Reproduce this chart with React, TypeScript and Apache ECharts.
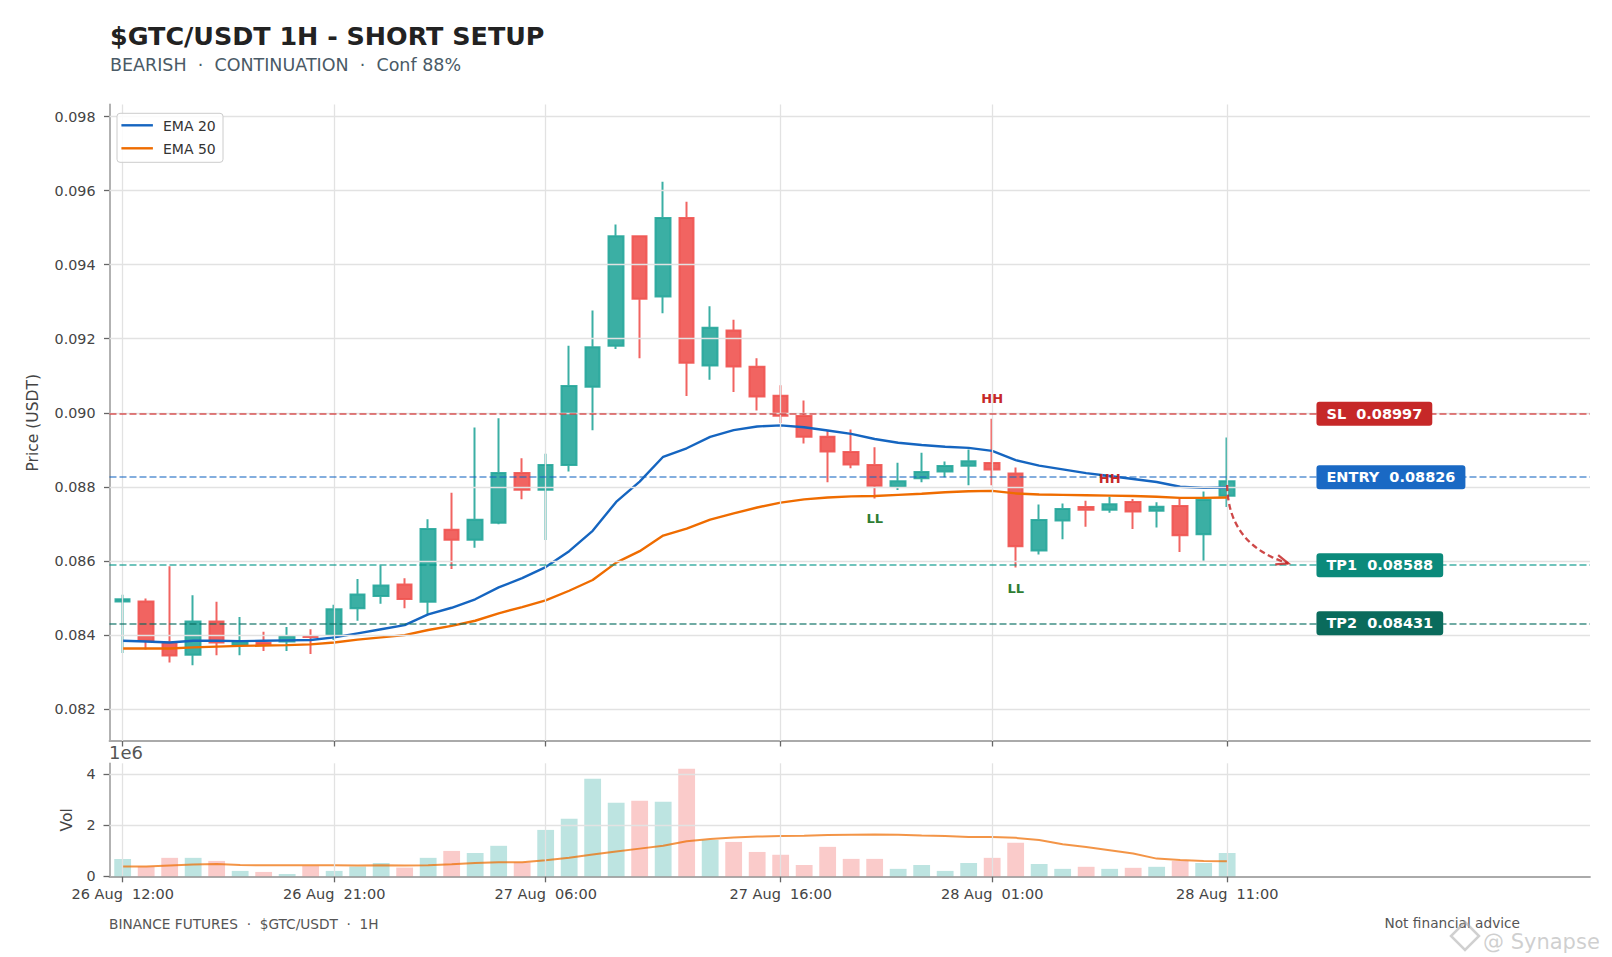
import React, { useEffect, useRef } from "react";
import * as echarts from "echarts";

// ---------- data ----------
const TIME_TICKS = [0, 9, 18, 28, 37, 47];
const TIME_TICK_LABELS = [
  "26 Aug  12:00",
  "26 Aug  21:00",
  "27 Aug  06:00",
  "27 Aug  16:00",
  "28 Aug  01:00",
  "28 Aug  11:00",
];
const PRICE_TICKS = [0.082, 0.084, 0.086, 0.088, 0.09, 0.092, 0.094, 0.096, 0.098];
const VOL_TICKS = [0, 2, 4];

const OPEN = [
  0.0849, 0.0849, 0.08379, 0.08346, 0.08436, 0.08373, 0.08378, 0.08382, 0.08397, 0.084,
  0.08472, 0.08505, 0.08536, 0.08489, 0.08684, 0.08657, 0.08703, 0.08837, 0.08792, 0.08859,
  0.0907, 0.09181, 0.09477, 0.09314, 0.09526, 0.09128, 0.09222, 0.09124, 0.09046, 0.08991,
  0.08935, 0.08894, 0.08859, 0.088, 0.08823, 0.08841, 0.08857, 0.08864, 0.08836, 0.08628,
  0.08709, 0.08745, 0.08738, 0.08759, 0.08735, 0.08748, 0.08672, 0.08776,
];
const CLOSE = [
  0.08496, 0.08384, 0.08344, 0.08436, 0.08379, 0.08382, 0.08375, 0.08396, 0.08394, 0.08469,
  0.08509, 0.08533, 0.08497, 0.08686, 0.08657, 0.08711, 0.08837, 0.08792, 0.08859, 0.09072,
  0.09177, 0.09477, 0.09308, 0.09526, 0.09135, 0.0923, 0.09125, 0.09044, 0.08992, 0.08935,
  0.08895, 0.0886, 0.08803, 0.08815, 0.0884, 0.08856, 0.08869, 0.08847, 0.08639, 0.0871,
  0.0874, 0.08738, 0.08753, 0.08733, 0.08746, 0.08669, 0.08764, 0.08815,
];
const LOW = [
  0.08351, 0.0836, 0.08325, 0.08318, 0.08345, 0.08345, 0.08356, 0.08356, 0.08348, 0.08386,
  0.08438, 0.08484, 0.08472, 0.08453, 0.08578, 0.08635, 0.08699, 0.08766, 0.08656, 0.08841,
  0.08953, 0.09172, 0.09147, 0.09269, 0.09045, 0.09089, 0.09056, 0.09006, 0.08972, 0.08917,
  0.08812, 0.0885, 0.08768, 0.08791, 0.08812, 0.08826, 0.08804, 0.08804, 0.08582, 0.08617,
  0.08658, 0.08692, 0.0873, 0.08686, 0.0869, 0.08624, 0.086, 0.08745,
];
const HIGH = [
  0.08508, 0.08498, 0.08585, 0.08507, 0.08489, 0.08448, 0.08408, 0.08421, 0.08415, 0.08481,
  0.08551, 0.08587, 0.08553, 0.08712, 0.08784, 0.0896, 0.08985, 0.08877, 0.08889, 0.09181,
  0.09276, 0.09509, 0.09479, 0.09624, 0.0957, 0.09288, 0.09251, 0.09147, 0.09074, 0.09033,
  0.08953, 0.08955, 0.08907, 0.08865, 0.08892, 0.08868, 0.08901, 0.08984, 0.08852, 0.08752,
  0.08755, 0.08762, 0.08773, 0.08767, 0.08758, 0.08769, 0.08787, 0.08933,
];
const EMA20 = [
  0.08384, 0.08382, 0.08379, 0.08384, 0.08384, 0.08383, 0.08384, 0.08385, 0.08386, 0.08393,
  0.08404, 0.08415, 0.08426, 0.08455, 0.08473, 0.08496, 0.08528, 0.08553, 0.08583, 0.08626,
  0.08681, 0.08759, 0.08814, 0.08881, 0.08904, 0.08935, 0.08953, 0.08963, 0.08966, 0.08961,
  0.08952, 0.08943, 0.08929, 0.08919, 0.08913, 0.08908, 0.08905, 0.08897, 0.08872, 0.08857,
  0.08847, 0.08837, 0.08829, 0.08821, 0.08813, 0.088, 0.08797, 0.08798,
];
const EMA50 = [
  0.08363, 0.08363, 0.08363, 0.08366, 0.08368, 0.0837, 0.08371, 0.08372, 0.08374, 0.08379,
  0.08387, 0.08393, 0.08399, 0.08413, 0.08424, 0.08438, 0.08458, 0.08475, 0.08493, 0.08519,
  0.08548, 0.08595, 0.08626, 0.08668, 0.08687, 0.08711, 0.08728, 0.08744, 0.08757, 0.08766,
  0.08771, 0.08774, 0.08775, 0.08778, 0.08781, 0.08785, 0.08788, 0.08789, 0.08782, 0.08779,
  0.08778, 0.08777, 0.08776, 0.08775, 0.08773, 0.0877, 0.0877, 0.08771,
];
// volume in millions
const VOLUME_M = [
  0.68, 0.38, 0.72, 0.72, 0.6, 0.21, 0.17, 0.09, 0.4, 0.21,
  0.38, 0.52, 0.34, 0.72, 0.99, 0.91, 1.19, 0.54, 1.81, 2.25,
  3.81, 2.87, 2.95, 2.91, 4.2, 1.42, 1.34, 0.95, 0.84, 0.44,
  1.15, 0.68, 0.68, 0.29, 0.44, 0.21, 0.52, 0.72, 1.31, 0.48,
  0.29, 0.37, 0.29, 0.33, 0.37, 0.6, 0.52, 0.91,
];
const VOL_MA_M = [
  0.38, 0.38, 0.42, 0.46, 0.48, 0.44, 0.43, 0.43, 0.43, 0.43,
  0.42, 0.43, 0.42, 0.43, 0.47, 0.52, 0.55, 0.55, 0.63, 0.72,
  0.85, 0.97, 1.08, 1.19, 1.37, 1.46, 1.51, 1.55, 1.57, 1.58,
  1.61, 1.62, 1.63, 1.62, 1.59, 1.57, 1.53, 1.53, 1.5, 1.42,
  1.25, 1.14, 1.02, 0.89, 0.69, 0.64, 0.6, 0.59,
];

const LEVEL_NAMES = ["SL", "ENTRY", "TP1", "TP2"];
const LEVEL_VALUES = [0.08997, 0.08826, 0.08588, 0.08431];
const TAG_X = 50.8;

const SWING_TEXT = ["HH", "LL", "LL", "HH"];
const SWING_X = [37, 32, 38, 42];
const SWING_Y = [0.09038, 0.08715, 0.08526, 0.08823];

const ARROW_START = [47.0, 0.08805];
const ARROW_CTRL = [47.04, 0.08643];
const ARROW_END = [49.6, 0.08593];

// ---------- styles ----------
const FONT = '"DejaVu Sans", "Noto Sans", sans-serif';
const UP = "#26a69a";
const DOWN = "#ef5350";
const LEVEL_LINE_COLORS = ["#d32f2f", "#1565c0", "#009688", "#00695c"];
const LEVEL_LINE_OPACITY = [0.8, 0.7, 0.75, 0.75];
const LEVEL_TAG_COLORS = ["#c62828", "#1a69c4", "#0b8a7b", "#0a6b5c"];
const SWING_COLORS: Record<string, string> = { HH: "#c62828", LL: "#2e7d32" };
const GRID_COLOR = "#e2e2e2";
const SPINE_COLOR = "#aaaaaa";
const TICK_COLOR = "#666666";
const LABEL_COLOR = "#444444";

const X_MIN = -0.56;
const X_MAX = 62.44;
const P_MIN = 0.08113;
const P_MAX = 0.09833;
const V_MAX = 4.41;

function tickLabel(v: number) {
  const k = TIME_TICKS.indexOf(Math.round(v));
  return k >= 0 ? TIME_TICK_LABELS[k] : "";
}

function buildOption() {
  const candles = OPEN.map((o, i) => [i, o, CLOSE[i], LOW[i], HIGH[i]]);
  const ema20 = EMA20.map((v, i) => [i, v]);
  const ema50 = EMA50.map((v, i) => [i, v]);
  const vol = VOLUME_M.map((v, i) => ({
    value: [i, v],
    itemStyle: { color: CLOSE[i] >= OPEN[i] ? UP : DOWN, opacity: 0.3 },
  }));
  const volMa = VOL_MA_M.map((v, i) => [i, v]);

  const axisLine = { show: true, onZero: false, lineStyle: { color: SPINE_COLOR, width: 1.8 } };
  const axisTickStyle = { color: TICK_COLOR, width: 1.3 };

  const gridLineStyle = { color: GRID_COLOR, width: 1.3, type: "solid" as const, opacity: 1 };

  return {
    animation: false,
    backgroundColor: "#ffffff",
    textStyle: { fontFamily: FONT },
    grid: [
      { left: 109.5, right: 22, top: 104.5, height: 636.5 },
      { left: 109.5, right: 22, top: 763.3, height: 113 },
    ],
    xAxis: [
      {
        type: "value",
        gridIndex: 0,
        min: X_MIN,
        max: X_MAX,
        axisLine,
        axisTick: { show: true, customValues: TIME_TICKS, length: 5.5, lineStyle: axisTickStyle },
        axisLabel: { show: false },
        splitLine: { show: false },
      },
      {
        type: "value",
        gridIndex: 1,
        min: X_MIN,
        max: X_MAX,
        axisLine,
        axisTick: { show: true, customValues: TIME_TICKS, length: 6, lineStyle: axisTickStyle },
        axisLabel: {
          show: true,
          customValues: TIME_TICKS,
          formatter: (v: number) => tickLabel(v),
          fontFamily: FONT,
          fontSize: 14.5,
          color: LABEL_COLOR,
          margin: 10,
        },
        splitLine: { show: false },
      },
    ],
    yAxis: [
      {
        type: "value",
        gridIndex: 0,
        min: P_MIN,
        max: P_MAX,
        axisLine,
        axisTick: { show: true, customValues: PRICE_TICKS, length: 5.5, lineStyle: axisTickStyle },
        axisLabel: {
          show: true,
          customValues: PRICE_TICKS,
          formatter: (v: number) => v.toFixed(3),
          fontFamily: FONT,
          fontSize: 14.3,
          color: LABEL_COLOR,
          margin: 14,
        },
        splitLine: { show: false },
        name: "Price (USDT)",
        nameLocation: "middle",
        nameGap: 69,
        nameTextStyle: { fontFamily: FONT, fontSize: 15.5, color: LABEL_COLOR },
      },
      {
        type: "value",
        gridIndex: 1,
        min: 0,
        max: V_MAX,
        axisLine,
        axisTick: { show: true, customValues: VOL_TICKS, length: 6, lineStyle: axisTickStyle },
        axisLabel: {
          show: true,
          customValues: VOL_TICKS,
          formatter: (v: number) => String(Math.round(v)),
          fontFamily: FONT,
          fontSize: 14.3,
          color: LABEL_COLOR,
          margin: 14,
        },
        splitLine: { show: false },
        name: "Vol",
        nameLocation: "middle",
        nameGap: 35,
        nameTextStyle: { fontFamily: FONT, fontSize: 15.5, color: LABEL_COLOR },
      },
    ],
    series: [
      // price grid lines
      {
        type: "line",
        xAxisIndex: 0,
        yAxisIndex: 0,
        data: [],
        z: 0,
        silent: true,
        markLine: {
          silent: true,
          precision: 8,
          symbol: ["none", "none"],
          label: { show: false },
          lineStyle: gridLineStyle,
          emphasis: { disabled: true },
          data: [
            ...PRICE_TICKS.map((v) => ({ yAxis: v })),
            ...TIME_TICKS.map((v) => ({ xAxis: v })),
          ],
        },
      },
      // volume grid lines
      {
        type: "line",
        xAxisIndex: 1,
        yAxisIndex: 1,
        data: [],
        z: 0,
        silent: true,
        markLine: {
          silent: true,
          precision: 8,
          symbol: ["none", "none"],
          label: { show: false },
          lineStyle: gridLineStyle,
          emphasis: { disabled: true },
          data: [
            ...VOL_TICKS.filter((v) => v > 0).map((v) => ({ yAxis: v })),
            ...TIME_TICKS.map((v) => ({ xAxis: v })),
          ],
        },
      },
      {
        type: "candlestick",
        xAxisIndex: 0,
        yAxisIndex: 0,
        data: candles,
        encode: { x: 0, y: [1, 2, 3, 4] },
        barWidth: 15,
        z: 2,
        silent: true,
        itemStyle: {
          color: UP,
          color0: DOWN,
          borderColor: UP,
          borderColor0: DOWN,
          borderWidth: 2,
          opacity: 0.9,
        },
      },
      // level lines
      {
        type: "line",
        xAxisIndex: 0,
        yAxisIndex: 0,
        data: [],
        z: 3,
        silent: true,
        markLine: {
          silent: true,
          precision: 8,
          symbol: ["none", "none"],
          label: { show: false },
          emphasis: { disabled: true },
          data: LEVEL_VALUES.map((v, i) => ({
            yAxis: v,
            lineStyle: {
              color: LEVEL_LINE_COLORS[i],
              opacity: LEVEL_LINE_OPACITY[i],
              width: 1.6,
              type: [7, 3],
            },
          })),
        },
      },
      {
        name: "EMA 20",
        type: "line",
        xAxisIndex: 0,
        yAxisIndex: 0,
        data: ema20,
        showSymbol: false,
        symbol: "none",
        z: 4,
        silent: true,
        lineStyle: { color: "#1565c0", width: 2.4 },
      },
      {
        name: "EMA 50",
        type: "line",
        xAxisIndex: 0,
        yAxisIndex: 0,
        data: ema50,
        showSymbol: false,
        symbol: "none",
        z: 4,
        silent: true,
        lineStyle: { color: "#ef6c00", width: 2.4 },
      },
      // level tags
      {
        type: "scatter",
        xAxisIndex: 0,
        yAxisIndex: 0,
        symbolSize: 0,
        z: 6,
        silent: true,
        itemStyle: { opacity: 1 },
        data: LEVEL_VALUES.map((v, i) => ({
          value: [TAG_X, v],
          label: {
            show: true,
            position: "right",
            distance: 0,
            formatter: `${LEVEL_NAMES[i]}  ${v.toFixed(5)}`,
            backgroundColor: LEVEL_TAG_COLORS[i],
            color: "#ffffff",
            opacity: 1,
            fontFamily: FONT,
            fontWeight: "bold",
            fontSize: 14.5,
            lineHeight: 14,
            padding: [5, 10, 5, 10],
            borderRadius: 3,
          },
        })),
      },
      // swing labels
      {
        type: "scatter",
        xAxisIndex: 0,
        yAxisIndex: 0,
        symbolSize: 0,
        z: 6,
        silent: true,
        itemStyle: { opacity: 1 },
        data: SWING_TEXT.map((t, i) => ({
          value: [SWING_X[i], SWING_Y[i]],
          label: {
            show: true,
            position: "inside",
            formatter: t,
            color: SWING_COLORS[t],
            opacity: 1,
            fontFamily: FONT,
            fontWeight: "bold",
            fontSize: 13,
          },
        })),
      },
      // projection arrow
      {
        type: "custom",
        xAxisIndex: 0,
        yAxisIndex: 0,
        z: 5,
        silent: true,
        data: [[ARROW_START[0], ARROW_START[1]]],
        renderItem: (_params: any, api: any) => {
          const s = api.coord(ARROW_START);
          const c = api.coord(ARROW_CTRL);
          const e = api.coord(ARROW_END);
          const ang = Math.atan2(e[1] - c[1], e[0] - c[0]);
          const L = 13;
          const w = 0.38;
          const head = [
            [e[0] - L * Math.cos(ang - w), e[1] - L * Math.sin(ang - w)],
            [e[0], e[1]],
            [e[0] - L * Math.cos(ang + w), e[1] - L * Math.sin(ang + w)],
          ];
          return {
            type: "group",
            children: [
              {
                type: "bezierCurve",
                shape: { x1: s[0], y1: s[1], x2: e[0], y2: e[1], cpx1: c[0], cpy1: c[1] },
                style: { stroke: "#c62828", lineWidth: 2.3, lineDash: [6, 3.5], fill: null, opacity: 0.85 },
              },
              {
                type: "polyline",
                shape: { points: head },
                style: { stroke: "#c62828", lineWidth: 2.3, fill: null, opacity: 0.85 },
              },
            ],
          };
        },
      },
      // volume
      {
        type: "bar",
        xAxisIndex: 1,
        yAxisIndex: 1,
        data: vol,
        barWidth: 16.8,
        z: 2,
        silent: true,
      },
      {
        type: "line",
        xAxisIndex: 1,
        yAxisIndex: 1,
        data: volMa,
        showSymbol: false,
        symbol: "none",
        z: 3,
        silent: true,
        lineStyle: { color: "#ef6c00", width: 2, opacity: 0.72 },
      },
    ],
    graphic: [
      {
        type: "text",
        x: 110,
        y: 36,
        style: {
          text: "$GTC/USDT 1H - SHORT SETUP",
          font: `bold 25.4px ${FONT}`,
          fill: "#222222",
          verticalAlign: "middle",
        },
      },
      {
        type: "text",
        x: 110,
        y: 64.5,
        style: {
          text: "BEARISH  \u00b7  CONTINUATION  \u00b7  Conf 88%",
          font: `17.5px ${FONT}`,
          fill: "#4a5a66",
          verticalAlign: "middle",
        },
      },
      // legend
      {
        type: "rect",
        shape: { x: 117, y: 113.3, width: 106, height: 49, r: 3 },
        style: { fill: "rgba(255,255,255,0.85)", stroke: "#cccccc", lineWidth: 1 },
        z: 50,
      },
      {
        type: "line",
        shape: { x1: 121.4, y1: 125.3, x2: 152.9, y2: 125.3 },
        style: { stroke: "#1565c0", lineWidth: 2.4 },
        z: 51,
      },
      {
        type: "line",
        shape: { x1: 121.4, y1: 148.3, x2: 152.9, y2: 148.3 },
        style: { stroke: "#ef6c00", lineWidth: 2.4 },
        z: 51,
      },
      {
        type: "text",
        x: 163,
        y: 125.8,
        z: 51,
        style: { text: "EMA 20", font: `14px ${FONT}`, fill: "#333333", verticalAlign: "middle" },
      },
      {
        type: "text",
        x: 163,
        y: 148.8,
        z: 51,
        style: { text: "EMA 50", font: `14px ${FONT}`, fill: "#333333", verticalAlign: "middle" },
      },
      // offset text for volume axis
      {
        type: "text",
        x: 109,
        y: 752,
        style: { text: "1e6", font: `18px ${FONT}`, fill: "#555555", verticalAlign: "middle" },
      },
      // footers
      {
        type: "text",
        x: 109,
        y: 924,
        style: {
          text: "BINANCE FUTURES  \u00b7  $GTC/USDT  \u00b7  1H",
          font: `13.7px ${FONT}`,
          fill: "#555555",
          verticalAlign: "middle",
        },
      },
      {
        type: "text",
        x: 1520,
        y: 923,
        style: {
          text: "Not financial advice",
          font: `13.7px ${FONT}`,
          fill: "#555555",
          align: "right",
          verticalAlign: "middle",
        },
      },
      // watermark
      {
        type: "polygon",
        shape: { points: [[1465, 922], [1479, 936], [1465, 950], [1451, 936]] },
        style: { fill: "none", stroke: "rgba(170,170,170,0.55)", lineWidth: 2.5 },
        z: 60,
      },
      {
        type: "text",
        x: 1483,
        y: 942,
        z: 60,
        style: {
          text: "@ Synapse",
          font: `21px ${FONT}`,
          fill: "rgba(175,175,175,0.6)",
          verticalAlign: "middle",
        },
      },
    ],
  };
}

export default function App() {
  const ref = useRef<HTMLDivElement | null>(null);
  useEffect(() => {
    if (!ref.current) return;
    const chart = echarts.init(ref.current, undefined, { renderer: "svg" });
    chart.setOption(buildOption() as any);
    return () => {
      chart.dispose();
    };
  }, []);
  return (
    <div
      ref={ref}
      style={{ position: "absolute", left: 0, top: 0, width: 1612, height: 957, background: "#ffffff" }}
    />
  );
}
